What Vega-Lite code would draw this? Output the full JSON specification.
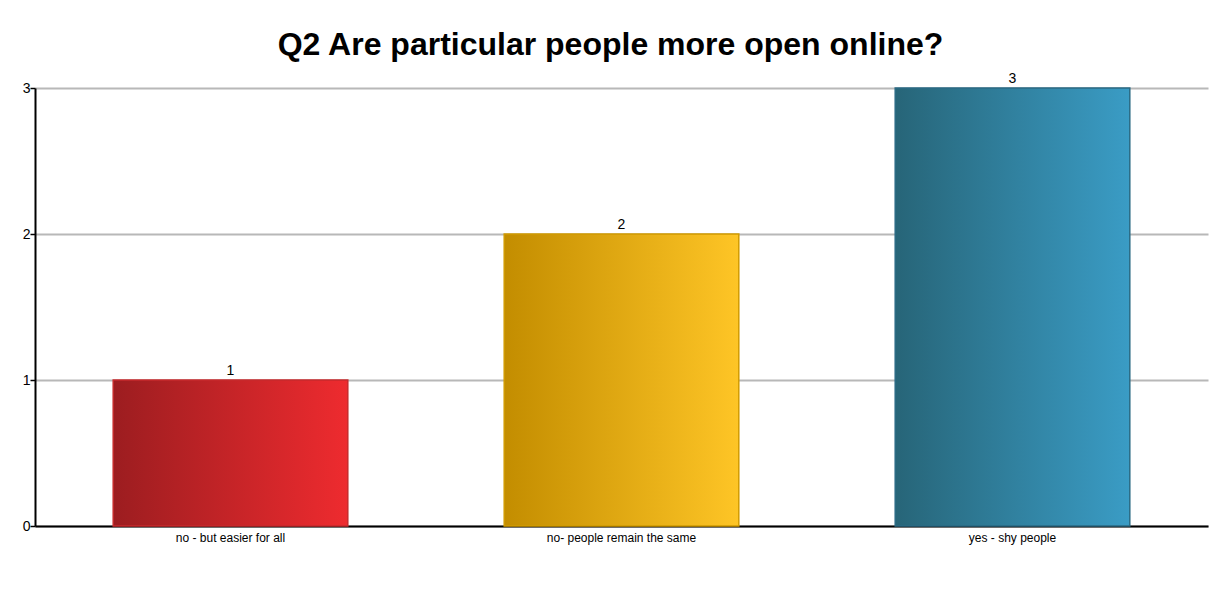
{
  "$schema": "https://vega.github.io/schema/vega-lite/v6.json",
  "width": 1173,
  "height": 438,
  "autosize": {"type": "none"},
  "padding": {"left": 35, "top": 88, "right": 10, "bottom": 82},
  "background": "white",
  "title": {
    "text": "Q2 Are particular people more open online?",
    "font": "Liberation Sans",
    "fontSize": 32,
    "fontWeight": "bold",
    "color": "#000000",
    "anchor": "middle",
    "dx": -11,
    "offset": 10
  },
  "data": {
    "values": [
      {"answer": "no - but easier for all", "count": 1},
      {"answer": "no- people remain the same", "count": 2},
      {"answer": "yes - shy people", "count": 3}
    ]
  },
  "encoding": {
    "x": {
      "field": "answer",
      "type": "nominal",
      "sort": null,
      "scale": {"paddingInner": 0.4, "paddingOuter": 0.2},
      "axis": {
        "title": null,
        "labelAngle": 0,
        "labelFont": "Liberation Sans",
        "labelFontSize": 12,
        "labelColor": "#000000",
        "labelPadding": 6,
        "ticks": false,
        "domainColor": "#000000",
        "domainWidth": 2,
        "grid": false
      }
    },
    "y": {
      "field": "count",
      "type": "quantitative",
      "scale": {"domain": [0, 3], "nice": false},
      "axis": {
        "title": null,
        "values": [0, 1, 2, 3],
        "format": "d",
        "labelFont": "Liberation Sans",
        "labelFontSize": 14,
        "labelColor": "#000000",
        "labelPadding": 0,
        "tickSize": 5,
        "tickColor": "#000000",
        "tickWidth": 1.5,
        "domainColor": "#000000",
        "domainWidth": 2,
        "grid": true,
        "gridColor": "#b8b8b8",
        "gridWidth": 2
      }
    }
  },
  "layer": [
    {
      "transform": [{"filter": "datum.answer === 'no - but easier for all'"}],
      "mark": {
        "type": "bar",
        "stroke": "#c62a2c",
        "strokeWidth": 1.5,
        "fill": {"gradient": "linear", "x1": 0, "y1": 0, "x2": 1, "y2": 0,
          "stops": [{"offset": 0, "color": "#9c1d20"}, {"offset": 1, "color": "#ee2b2f"}]}
      }
    },
    {
      "transform": [{"filter": "datum.answer === 'no- people remain the same'"}],
      "mark": {
        "type": "bar",
        "stroke": "#d19b00",
        "strokeWidth": 1.5,
        "fill": {"gradient": "linear", "x1": 0, "y1": 0, "x2": 1, "y2": 0,
          "stops": [{"offset": 0, "color": "#c38d00"}, {"offset": 1, "color": "#fec526"}]}
      }
    },
    {
      "transform": [{"filter": "datum.answer === 'yes - shy people'"}],
      "mark": {
        "type": "bar",
        "stroke": "#2a6a84",
        "strokeWidth": 1.5,
        "fill": {"gradient": "linear", "x1": 0, "y1": 0, "x2": 1, "y2": 0,
          "stops": [{"offset": 0, "color": "#276578"}, {"offset": 1, "color": "#3a9cc5"}]}
      }
    },
    {
      "mark": {
        "type": "text",
        "baseline": "bottom",
        "dy": -2,
        "font": "Liberation Sans",
        "fontSize": 14,
        "color": "#000000"
      },
      "encoding": {"text": {"field": "count", "type": "quantitative"}}
    }
  ],
  "config": {"view": {"stroke": null}}
}
